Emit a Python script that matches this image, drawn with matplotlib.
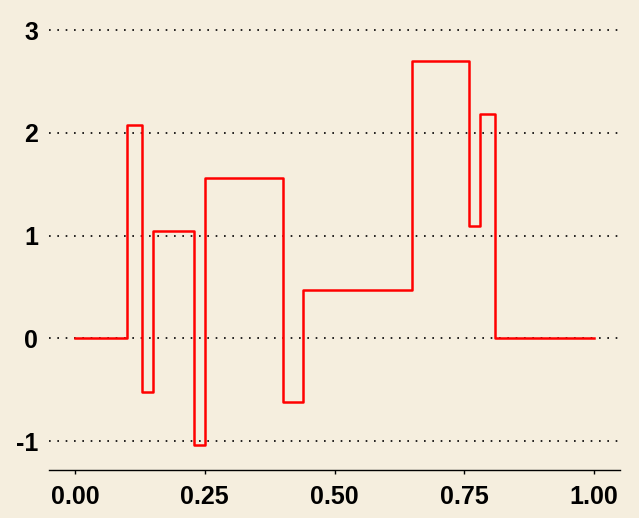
import matplotlib
matplotlib.use("Agg")
import matplotlib.pyplot as plt

# step function: jump locations and the level after each jump
knots = [0.0, 0.10, 0.13, 0.15, 0.23, 0.25, 0.40, 0.44, 0.65, 0.76, 0.78, 0.81, 1.0]
levels = [0.0, 2.08, -0.52, 1.04, -1.04, 1.56, -0.624, 0.468, 2.704, 1.092, 2.184, 0.0, 0.0]

xticks = [0.0, 0.25, 0.5, 0.75, 1.0]
xlabels = ["0.00", "0.25", "0.50", "0.75", "1.00"]
yticks = [-1, 0, 1, 2, 3]

bg = "#F5EEDE"
plt.rcParams['font.family'] = ['Liberation Sans', 'DejaVu Sans']

fig = plt.figure(figsize=(6.39, 5.18), dpi=100, facecolor=bg)
ax = fig.add_axes([0.0768, 0.0927, 0.8934, 0.8907], facecolor=bg)

# dotted horizontal grid
for yv in yticks:
    ax.axhline(yv, color="black", lw=1.2, ls=(0, (1, 4)), zorder=1)

ax.step(knots, levels, where="post", color="red", lw=1.8, zorder=3)

ax.set_xlim(-0.05, 1.05)
ax.set_ylim(-1.282, 3.21)

ax.set_xticks(xticks)
ax.set_xticklabels(xlabels)
ax.set_yticks(yticks)
ax.set_yticklabels([str(v) for v in yticks])

for s in ["top", "right", "left"]:
    ax.spines[s].set_visible(False)
ax.spines["bottom"].set_color("black")
ax.spines["bottom"].set_linewidth(1.0)

ax.tick_params(axis="x", length=3, width=1, direction="out", pad=8,
               labelsize=18, colors="black")
ax.tick_params(axis="y", length=0, pad=8, labelsize=18, colors="black")
for lab in ax.get_xticklabels() + ax.get_yticklabels():
    lab.set_fontweight("bold")

plt.savefig("out.png", dpi=100, facecolor=bg)
